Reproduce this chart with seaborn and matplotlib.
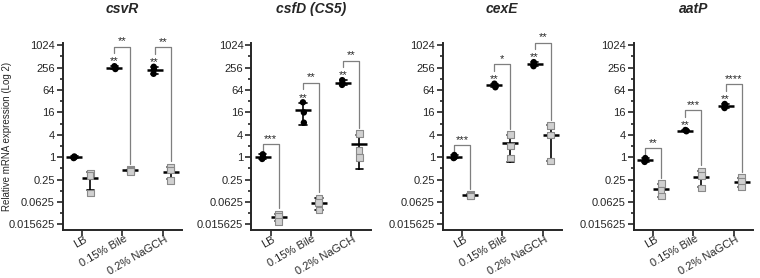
import numpy as np
import pandas as pd
import matplotlib
matplotlib.use("Agg")
import matplotlib.pyplot as plt
import matplotlib.transforms as mtransforms
import seaborn as sns
from matplotlib.ticker import NullFormatter

conditions = ["LB", "0.15% Bile", "0.2% NaGCH"]
groups = ["filled", "open"]
genes = ["csvR", "csfD (CS5)", "cexE", "aatP"]

# replicate values (linear fold change), one list per condition
csvR_filled = [[1.05, 1.0, 0.95], [280, 255, 235], [270, 230, 175]]
csvR_open = [[0.38, 0.32, 0.11], [0.47, 0.44, 0.42], [0.53, 0.45, 0.24]]
csfD_filled = [[1.2, 1.0, 0.9], [30, 16, 8.5], [118, 100, 88]]
csfD_open = [[0.029, 0.026, 0.019], [0.08, 0.062, 0.038], [4.3, 1.5, 1.0]]
cexE_filled = [[1.15, 1.0, 0.95], [95, 85, 76], [360, 315, 280]]
cexE_open = [[0.1, 0.095, 0.09], [4.1, 2.0, 0.95], [7.2, 4.0, 0.8]]
aatP_filled = [[0.95, 0.85, 0.75], [5.4, 5.2, 5.0], [27, 24, 21]]
aatP_open = [[0.2, 0.13, 0.09], [0.42, 0.33, 0.15], [0.28, 0.22, 0.16]]

# significance: filled group vs LB, and filled vs open within a condition
csvR_vs_lb = ["", "**", "**"]
csvR_pair = ["", "**", "**"]
csfD_vs_lb = ["", "**", "**"]
csfD_pair = ["***", "**", "**"]
cexE_vs_lb = ["", "**", "**"]
cexE_pair = ["***", "*", "**"]
aatP_vs_lb = ["", "**", "**"]
aatP_pair = ["**", "***", "****"]

ytick_exp = list(range(-6, 11, 2))

panels = [
    (genes[0], csvR_filled, csvR_open, csvR_vs_lb, csvR_pair),
    (genes[1], csfD_filled, csfD_open, csfD_vs_lb, csfD_pair),
    (genes[2], cexE_filled, cexE_open, cexE_vs_lb, cexE_pair),
    (genes[3], aatP_filled, aatP_open, aatP_vs_lb, aatP_pair),
]


def make_frame(filled, open_):
    rows = []
    for cond, f_vals, o_vals in zip(conditions, filled, open_):
        for v in f_vals:
            rows.append((cond, "filled", v))
        for v in o_vals:
            rows.append((cond, "open", v))
    return pd.DataFrame(rows, columns=["condition", "group", "value"])


def group_top(vals):
    s = pd.Series(vals)
    return np.log2(max(s.max(), s.mean() + s.std()))


def draw_panel(fig, ax, title, filled, open_, vs_lb, pair):
    df = make_frame(filled, open_)

    np.random.seed(3)
    sns.stripplot(data=df[df["group"] == "filled"], x="condition", y="value",
                  hue="group", hue_order=groups, order=conditions, dodge=True,
                  jitter=0.06, palette={"filled": "black", "open": "#d0d0d0"},
                  marker="o", size=4.6, legend=False, ax=ax, zorder=3)
    sns.stripplot(data=df[df["group"] == "open"], x="condition", y="value",
                  hue="group", hue_order=groups, order=conditions, dodge=True,
                  jitter=0.02, palette={"filled": "black", "open": "#d0d0d0"},
                  marker="s", size=4.8, edgecolor="#8a8a8a", linewidth=0.8,
                  legend=False, ax=ax, zorder=3)
    sns.pointplot(data=df, x="condition", y="value", hue="group",
                  hue_order=groups, order=conditions, dodge=0.4,
                  errorbar="sd", capsize=0.18, markers="_", markersize=11,
                  linestyle="none", palette={"filled": "black", "open": "black"},
                  err_kws={"linewidth": 1.2}, markeredgewidth=1.8,
                  legend=False, ax=ax)

    ax.set_yscale("log", base=2)
    ax.set_ylim(2 ** -6.45, 2 ** 10.2)
    ax.set_xlim(-0.49, 2.48)
    ax.set_yticks([2.0 ** k for k in ytick_exp])
    ax.set_yticklabels([f"{2.0 ** k:g}" for k in ytick_exp])
    ax.set_yticks([2.0 ** k for k in range(-5, 10, 2)], minor=True)
    ax.yaxis.set_minor_formatter(NullFormatter())
    ax.set_xlabel("")
    ax.set_ylabel("")

    ax.tick_params(axis="y", which="major", length=4, width=1.2, pad=1.5, labelsize=8)
    ax.tick_params(axis="y", which="minor", length=2.5, width=1.2)
    ax.tick_params(axis="x", length=4, width=1.2, pad=-0.8, labelsize=8)
    shift = mtransforms.ScaledTranslation(1.5 / 100, 0, fig.dpi_scale_trans)
    for lab in ax.get_xticklabels():
        lab.set_rotation(30)
        lab.set_ha("right")
        lab.set_va("top")
        lab.set_rotation_mode("anchor")
        lab.set_transform(lab.get_transform() + shift)

    sns.despine(ax=ax)
    for side in ["left", "bottom"]:
        ax.spines[side].set_linewidth(1.4)

    ax.text(0.5, 1.18, title, transform=ax.transAxes, ha="center", va="center",
            fontsize=10, fontweight="bold", fontstyle="italic")

    # significance stars and brackets
    for i in range(len(conditions)):
        f_top = group_top(filled[i])
        o_top = group_top(open_[i])
        xl, xr = i - 0.2, i + 0.2
        if vs_lb[i]:
            ax.text(xl, 2 ** (f_top + 0.15), vs_lb[i], ha="center", va="baseline",
                    fontsize=8)
            leg_l = f_top + 1.15
        else:
            leg_l = f_top + 0.3
        if pair[i]:
            bar_y = leg_l + 0.6
            leg_r = o_top + 0.5
            ax.plot([xl, xl, xr, xr],
                    [2 ** leg_l, 2 ** bar_y, 2 ** bar_y, 2 ** leg_r],
                    color="#7f7f7f", linewidth=0.9, clip_on=False)
            ax.text(i, 2 ** (bar_y + 0.2), pair[i], ha="center", va="baseline",
                    fontsize=8)


sns.set_style("ticks")
plt.rcParams["font.family"] = ["Liberation Sans", "DejaVu Sans"]

fig = plt.figure(figsize=(7.6, 2.78), dpi=100)
lefts = [62.5, 251, 442.5, 633.5]
for k, (title, filled, open_, vs_lb, pair) in enumerate(panels):
    ax = fig.add_axes([lefts[k] / 760, 1 - 229.5 / 278, 119.5 / 760, 186.5 / 278])
    draw_panel(fig, ax, title, filled, open_, vs_lb, pair)
    if k == 0:
        ax.set_ylabel("Relative mRNA expression (Log 2)", fontsize=7)
        ax.yaxis.set_label_coords(-0.42, 0.5)

fig.savefig("out.png", dpi=100)
